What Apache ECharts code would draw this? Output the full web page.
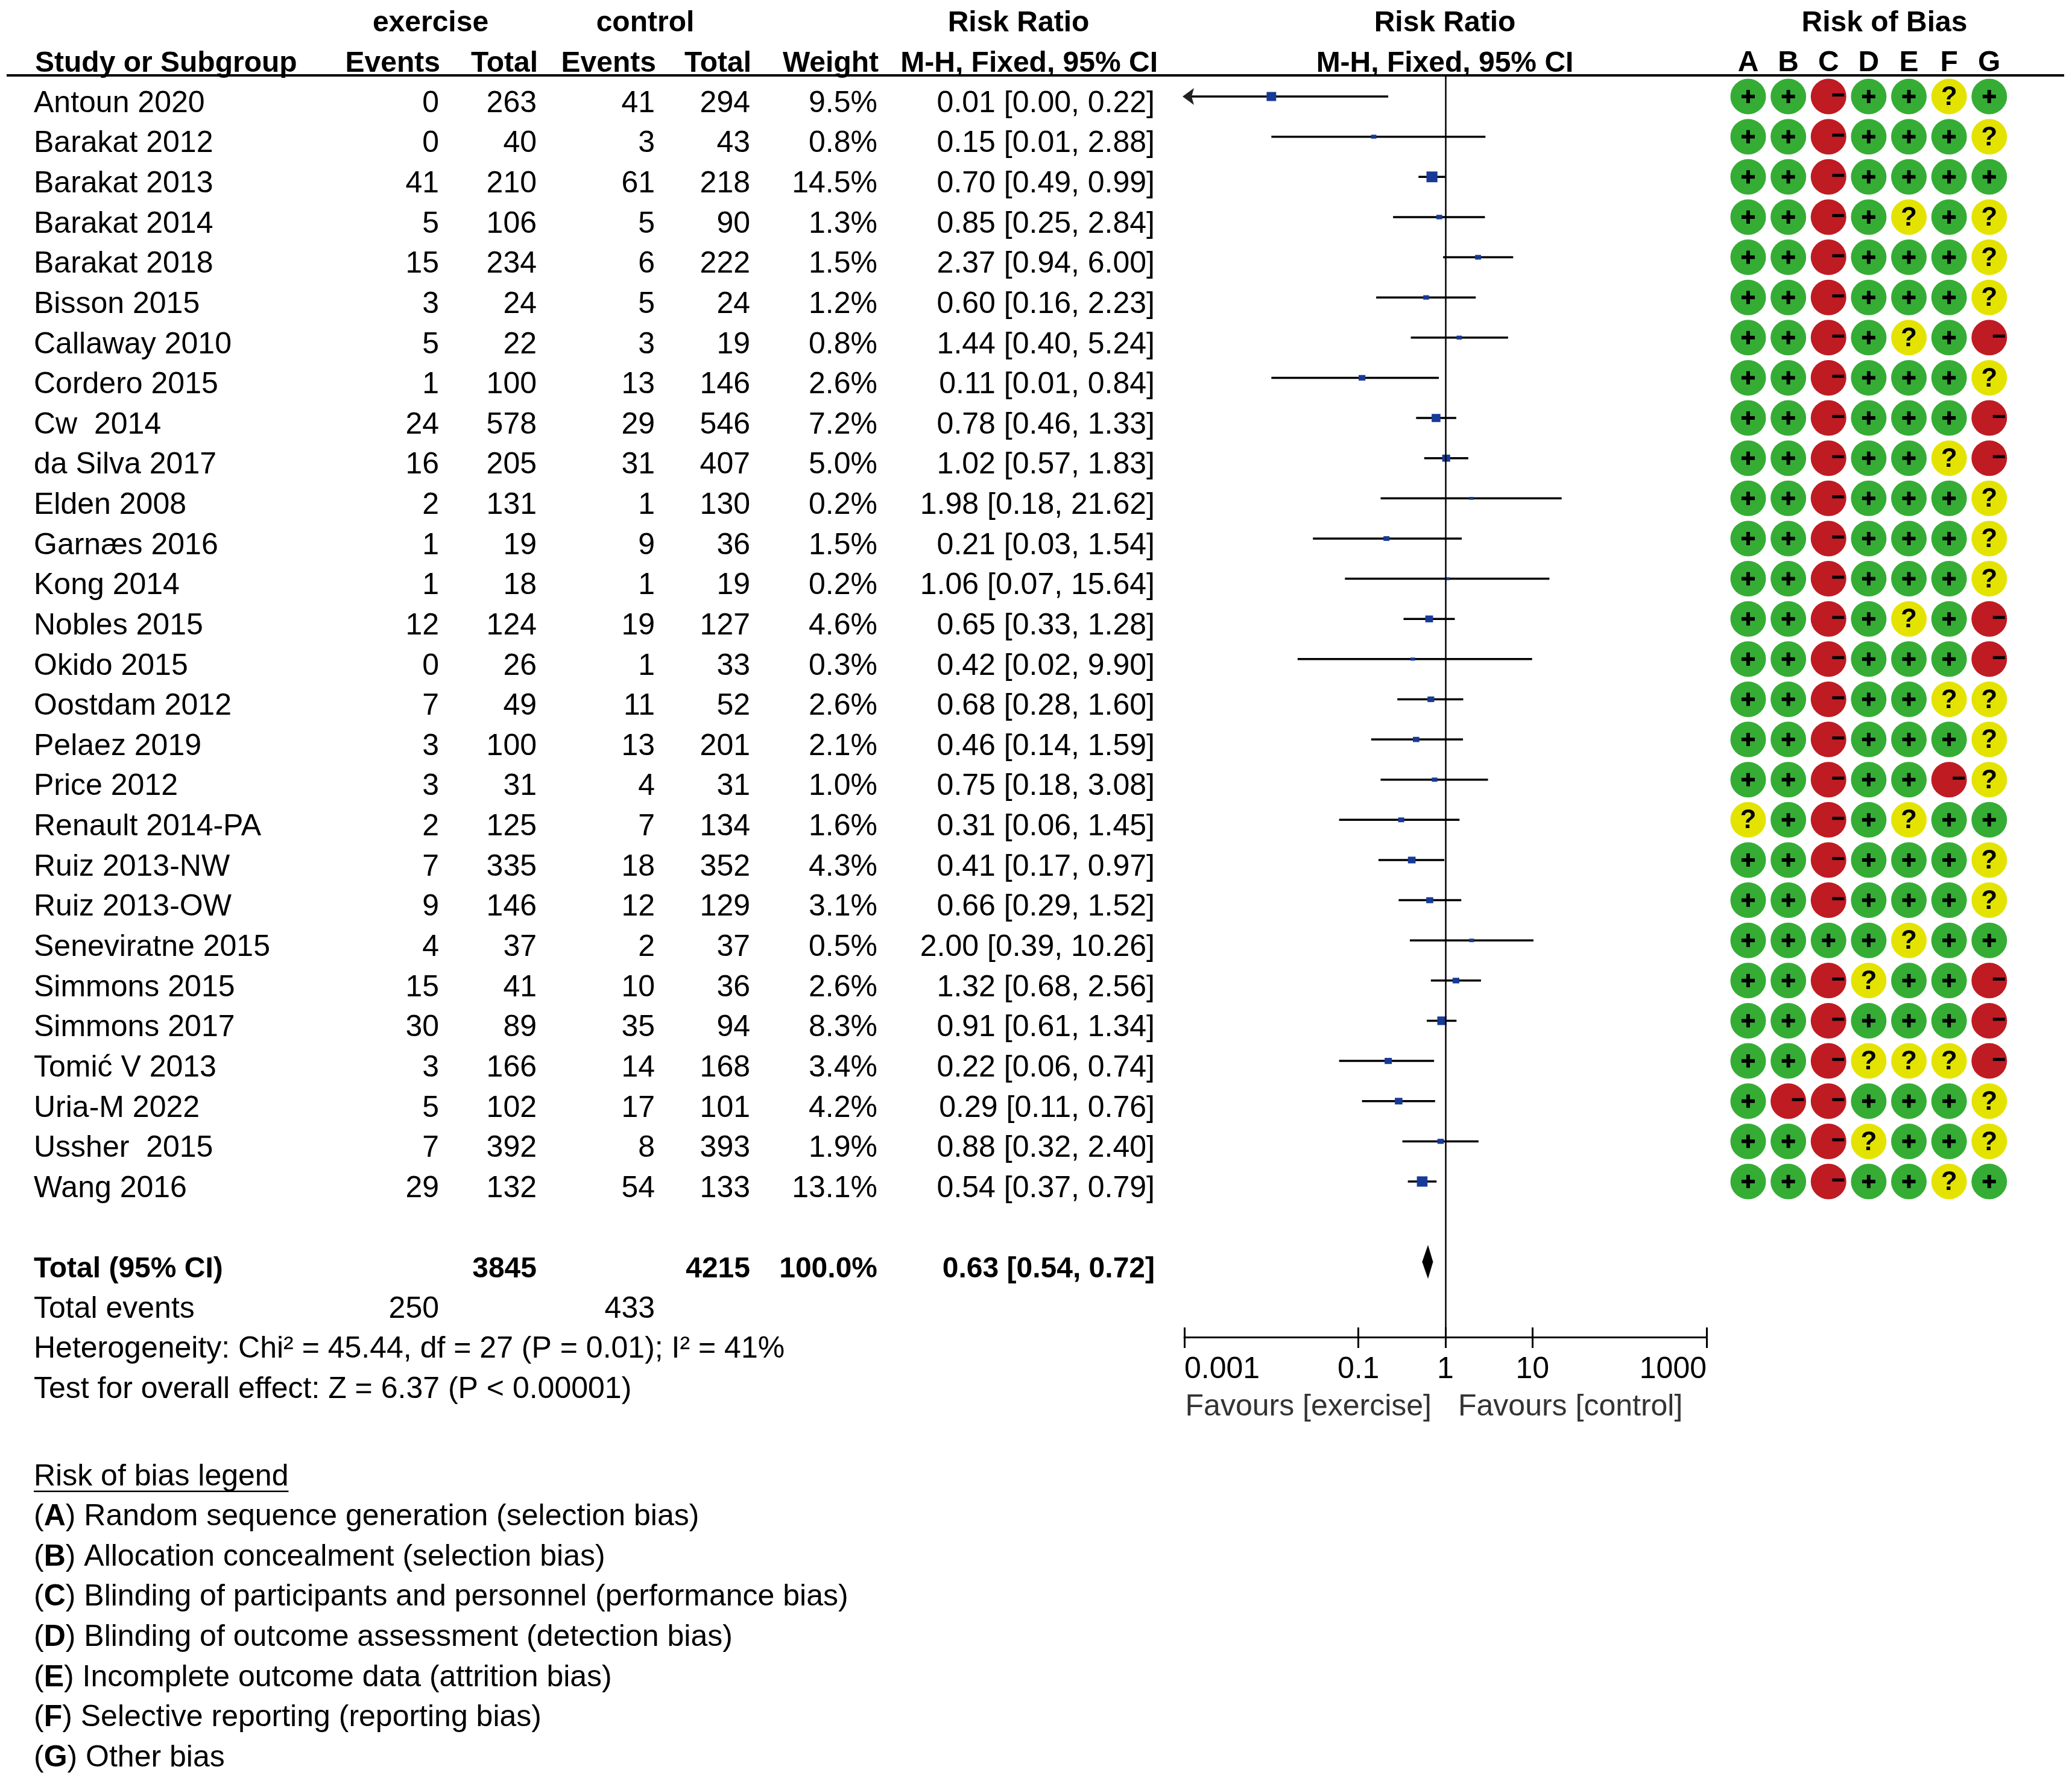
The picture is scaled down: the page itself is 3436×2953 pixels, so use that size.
<!DOCTYPE html>
<html>
<head>
<meta charset="utf-8">
<script src="https://cdn.jsdelivr.net/npm/echarts@6/dist/echarts.min.js"></script>
<style>
html,body{margin:0;padding:0;background:#fff}
#chart{width:3436px;height:2953px}
</style>
</head>
<body>
<div id="chart"></div>
<script>
// ---- data ----
var studies = ['Antoun 2020','Barakat 2012','Barakat 2013','Barakat 2014','Barakat 2018','Bisson 2015',
    'Callaway 2010','Cordero 2015','Cw  2014','da Silva 2017','Elden 2008','Garnæs 2016','Kong 2014',
    'Nobles 2015','Okido 2015','Oostdam 2012','Pelaez 2019','Price 2012','Renault 2014-PA','Ruiz 2013-NW',
    'Ruiz 2013-OW','Seneviratne 2015','Simmons 2015','Simmons 2017','Tomić V 2013','Uria-M 2022',
    'Ussher  2015','Wang 2016'];
var expEvents = [0,0,41,5,15,3,5,1,24,16,2,1,1,12,0,7,3,3,2,7,9,4,15,30,3,5,7,29];
var expTotal  = [263,40,210,106,234,24,22,100,578,205,131,19,18,124,26,49,100,31,125,335,146,37,41,89,166,102,392,132];
var ctlEvents = [41,3,61,5,6,5,3,13,29,31,1,9,1,19,1,11,13,4,7,18,12,2,10,35,14,17,8,54];
var ctlTotal  = [294,43,218,90,222,24,19,146,546,407,130,36,19,127,33,52,201,31,134,352,129,37,36,94,168,101,393,133];
var weights   = [9.5,0.8,14.5,1.3,1.5,1.2,0.8,2.6,7.2,5.0,0.2,1.5,0.2,4.6,0.3,2.6,2.1,1.0,1.6,4.3,3.1,0.5,2.6,8.3,3.4,4.2,1.9,13.1];
var rr     = [0.01,0.15,0.70,0.85,2.37,0.60,1.44,0.11,0.78,1.02,1.98,0.21,1.06,0.65,0.42,0.68,0.46,0.75,0.31,0.41,0.66,2.00,1.32,0.91,0.22,0.29,0.88,0.54];
var rrLow  = [0.00,0.01,0.49,0.25,0.94,0.16,0.40,0.01,0.46,0.57,0.18,0.03,0.07,0.33,0.02,0.28,0.14,0.18,0.06,0.17,0.29,0.39,0.68,0.61,0.06,0.11,0.32,0.37];
var rrHigh = [0.22,2.88,0.99,2.84,6.00,2.23,5.24,0.84,1.33,1.83,21.62,1.54,15.64,1.28,9.90,1.60,1.59,3.08,1.45,0.97,1.52,10.26,2.56,1.34,0.74,0.76,2.40,0.79];
var rob = ['++-++?+','++-+++?','++-++++','++-+?+?','++-+++?','++-+++?','++-+?+-','++-+++?',
    '++-+++-','++-++?-','++-+++?','++-+++?','++-+++?','++-+?+-','++-+++-','++-++??','++-+++?',
    '++-++-?','?+-+?++','++-+++?','++-+++?','++++?++','++-?++-','++-+++-','++-???-','+--+++?',
    '++-?++?','++-++?+'];
var robDomains = ['A','B','C','D','E','F','G'];

var totalExp = 3845, totalCtl = 4215, totalWeight = 100.0;
var totalEventsExp = 250, totalEventsCtl = 433;
var totalRR = 0.63, totalLow = 0.54, totalHigh = 0.72;
var heterogeneity = 'Heterogeneity: Chi² = 45.44, df = 27 (P = 0.01); I² = 41%';
var overallEffect = 'Test for overall effect: Z = 6.37 (P < 0.00001)';
var robLegendTitle = 'Risk of bias legend';
var robLegend = ['Random sequence generation (selection bias)','Allocation concealment (selection bias)',
    'Blinding of participants and personnel (performance bias)','Blinding of outcome assessment (detection bias)',
    'Incomplete outcome data (attrition bias)','Selective reporting (reporting bias)','Other bias'];
var forestTicks = [0.001, 0.1, 1, 10, 1000];
var forestTickLabels = ['0.001','0.1','1','10','1000'];

// ---- layout ----
var W = 3436, H = 2953;
var Y0 = 160, ROWH = 66.63, TEXT_DY = 12;
var FONT = '"Liberation Sans", Arial, sans-serif';
var FS = 50, FSB = 48;
var TOP = 125, AXIS_Y = 2217;
var FOREST_L = 1964, FOREST_R = 2830;
var ROB_X0 = 2899, ROB_STEP = 66.63;
var COL = {name:56, expEv:728, expTot:890, ctlEv:1086, ctlTot:1244, weight:1455, ci:1915,
    exp:714, ctl:1070, rrHead:1689, forest:2396, rob:3125, favL:2374, favR:2418};
var ROB_COLOR = {'+':'#35ad35', '-':'#bf1b22', '?':'#e4e300'};

function rowOf(y){ return (y - Y0) / ROWH; }
function fmt2(v){ return v.toFixed(2); }
function ciText(e, l, h){ return fmt2(e) + ' [' + fmt2(l) + ', ' + fmt2(h) + ']'; }

// ---- table cells ----
var cells = [];
function cell(x, row, text, align, bold, extra){
    var c = {x:x, row:row, text:String(text), align:align || 'right', bold:!!bold};
    for (var k in extra) c[k] = extra[k];
    cells.push(c);
}
cell(COL.exp, -2, 'exercise', 'center', true);
cell(COL.ctl, -2, 'control', 'center', true);
cell(COL.rrHead, -2, 'Risk Ratio', 'center', true);
cell(COL.forest, -2, 'Risk Ratio', 'center', true);
cell(COL.rob, -2, 'Risk of Bias', 'center', true);
cell(COL.name + 2, -1, 'Study or Subgroup', 'left', true);
cell(COL.expEv + 2, -1, 'Events', 'right', true);
cell(COL.expTot + 2, -1, 'Total', 'right', true);
cell(COL.ctlEv + 2, -1, 'Events', 'right', true);
cell(COL.ctlTot + 2, -1, 'Total', 'right', true);
cell(COL.weight + 2, -1, 'Weight', 'right', true);
cell(COL.ci + 5, -1, 'M-H, Fixed, 95% CI', 'right', true);
cell(COL.forest, -1, 'M-H, Fixed, 95% CI', 'center', true);

for (var i = 0; i < studies.length; i++) {
    cell(COL.name, i, studies[i], 'left');
    cell(COL.expEv, i, expEvents[i]);
    cell(COL.expTot, i, expTotal[i]);
    cell(COL.ctlEv, i, ctlEvents[i]);
    cell(COL.ctlTot, i, ctlTotal[i]);
    cell(COL.weight, i, weights[i].toFixed(1) + '%');
    cell(COL.ci, i, ciText(rr[i], rrLow[i], rrHigh[i]));
}
var rTot = studies.length + 1;
cell(COL.name, rTot, 'Total (95% CI)', 'left', true);
cell(COL.expTot, rTot, totalExp, 'right', true);
cell(COL.ctlTot, rTot, totalCtl, 'right', true);
cell(COL.weight, rTot, totalWeight.toFixed(1) + '%', 'right', true);
cell(COL.ci, rTot, ciText(totalRR, totalLow, totalHigh), 'right', true);
cell(COL.name, rTot + 1, 'Total events', 'left');
cell(COL.expEv, rTot + 1, totalEventsExp);
cell(COL.ctlEv, rTot + 1, totalEventsCtl);
cell(COL.name, rTot + 2, heterogeneity, 'left');
cell(COL.name, rTot + 3, overallEffect, 'left');
cell(COL.favL, rTot + 3.43, 'Favours [exercise]', 'right', false, {color:'#333'});
cell(COL.favR, rTot + 3.43, 'Favours [control]', 'left', false, {color:'#333'});
cell(COL.name, rTot + 5.17, robLegendTitle, 'left', false, {underline:true});
for (var j = 0; j < robLegend.length; j++) {
    cell(COL.name, rTot + 6.17 + j, '({b|' + robDomains[j] + '}) ' + robLegend[j], 'left', false, {rich:true});
}

var measureCtx = document.createElement('canvas').getContext('2d');

function renderCell(params, api){
    var c = cells[params.dataIndex];
    var p = api.coord([api.value(0), api.value(1) + TEXT_DY / ROWH]);
    var size = c.bold ? FSB : FS;
    var style = {text:c.text, fill:c.color || '#000', align:c.align, verticalAlign:'middle',
        fontSize:size, fontFamily:FONT, fontWeight:c.bold ? 'bold' : 'normal'};
    if (c.rich) style.rich = {b:{fontSize:FS, fontFamily:FONT, fontWeight:'bold', fill:'#000'}};
    var el = {type:'text', x:p[0], y:p[1], style:style};
    if (!c.underline) return el;
    measureCtx.font = size + 'px ' + FONT;
    var w = measureCtx.measureText(c.text).width;
    return {type:'group', children:[el, {type:'line',
        shape:{x1:p[0], y1:p[1] + 24, x2:p[0] + w, y2:p[1] + 24},
        style:{stroke:'#000', lineWidth:2.5}}]};
}

function renderStudy(params, api){
    var est = api.value(0), row = api.value(1), lo = api.value(2), hi = api.value(3), w = api.value(4);
    var p = api.coord([est, row]);
    var arrowLeft = !(lo >= forestTicks[0]);
    var xl = api.coord([arrowLeft ? Math.log10(forestTicks[0]) : Math.log10(lo), row])[0];
    var xh = api.coord([Math.log10(Math.min(hi, forestTicks[forestTicks.length - 1])), row])[0];
    var ch = [{type:'line', shape:{x1:xl, y1:p[1], x2:xh, y2:p[1]}, style:{stroke:'#000', lineWidth:3.5}}];
    if (arrowLeft) {
        ch.push({type:'polygon', shape:{points:[[xl - 3, p[1]], [xl + 16, p[1] - 14], [xl + 12, p[1]], [xl + 16, p[1] + 14]]},
            style:{fill:'#222'}});
    }
    var sw = 6 + 3.2 * Math.sqrt(w), sh = 3 + 3.9 * Math.sqrt(w);
    ch.push({type:'rect', shape:{x:p[0] - sw / 2, y:p[1] - sh / 2, width:sw, height:sh}, style:{fill:'#163a96'}});
    return {type:'group', children:ch};
}

function renderDiamond(params, api){
    var row = api.value(1);
    var c = api.coord([api.value(0), row]);
    var l = api.coord([Math.log10(api.value(2)), row]);
    var r = api.coord([Math.log10(api.value(3)), row]);
    return {type:'polygon', shape:{points:[[l[0], c[1]], [c[0], c[1] - 28], [r[0], c[1]], [c[0], c[1] + 28]]},
        style:{fill:'#000'}};
}

var robCells = [];
for (var i = 0; i < rob.length; i++) {
    for (var j = 0; j < robDomains.length; j++) robCells.push([j, i, rob[i].charAt(j)]);
}
function renderRob(params, api){
    var p = api.coord([api.value(0), api.value(1)]);
    var code = robCells[params.dataIndex][2];
    var ch = [{type:'circle', shape:{cx:p[0], cy:p[1], r:29.5}, style:{fill:ROB_COLOR[code]}}];
    if (code === '+') {
        ch.push({type:'rect', shape:{x:p[0] - 11, y:p[1] - 3, width:22, height:6}, style:{fill:'#000'}});
        ch.push({type:'rect', shape:{x:p[0] - 3, y:p[1] - 11, width:6, height:22}, style:{fill:'#000'}});
    } else if (code === '-') {
        ch.push({type:'rect', shape:{x:p[0] + 6, y:p[1] - 5, width:20, height:5}, style:{fill:'#000'}});
    } else {
        ch.push({type:'text', x:p[0], y:p[1] + 2, style:{text:'?', align:'center', verticalAlign:'middle',
            fontSize:44, fontWeight:'bold', fontFamily:FONT, fill:'#000'}});
    }
    return {type:'group', children:ch};
}

var tickVals = forestTicks.map(function(v){ return Math.log10(v); });
function tickLabel(v){
    for (var k = 0; k < tickVals.length; k++) if (Math.abs(tickVals[k] - v) < 1e-6) return forestTickLabels[k];
    return '';
}

var studyData = studies.map(function(s, i){ return [Math.log10(rr[i]), i, rrLow[i], rrHigh[i], weights[i]]; });

var chart = echarts.init(document.getElementById('chart'));
chart.setOption({
    animation:false,
    backgroundColor:'#fff',
    textStyle:{fontFamily:FONT},
    grid:[
        {left:0, top:0, width:W, height:H, outerBoundsMode:'none'},
        {left:FOREST_L, top:TOP, width:FOREST_R - FOREST_L, height:AXIS_Y - TOP, outerBoundsMode:'none'},
        {left:ROB_X0 - ROB_STEP / 2, top:TOP, width:ROB_STEP * robDomains.length, height:AXIS_Y - TOP, outerBoundsMode:'none'}
    ],
    xAxis:[
        {gridIndex:0, type:'value', min:0, max:W, show:false},
        {gridIndex:1, type:'value', min:-3, max:3, position:'bottom',
            axisLine:{show:true, onZero:false, lineStyle:{color:'#000', width:3}},
            axisTick:{show:true, customValues:tickVals, length:18, lineStyle:{color:'#000', width:3}},
            axisLabel:{show:true, customValues:tickVals, formatter:tickLabel, margin:54, verticalAlign:'middle',
                alignMinLabel:'left', alignMaxLabel:'right', fontSize:FS, color:'#000', fontFamily:FONT},
            splitLine:{show:false}},
        {gridIndex:1, type:'value', min:-3, max:3, position:'bottom', offset:0,
            axisLine:{show:false, onZero:false},
            axisTick:{show:true, inside:true, customValues:tickVals, length:16, lineStyle:{color:'#000', width:3}},
            axisLabel:{show:false}, splitLine:{show:false}},
        {gridIndex:2, type:'category', data:robDomains, position:'top',
            axisLine:{show:false, onZero:false}, axisTick:{show:false},
            axisLabel:{interval:0, margin:20, verticalAlign:'middle', fontSize:FSB, fontWeight:'bold', color:'#000', fontFamily:FONT},
            splitLine:{show:false}}
    ],
    yAxis:[
        {gridIndex:0, type:'value', inverse:true, min:rowOf(0), max:rowOf(H), show:false},
        {gridIndex:1, type:'value', inverse:true, min:rowOf(TOP), max:rowOf(AXIS_Y), show:false},
        {gridIndex:2, type:'value', inverse:true, min:rowOf(TOP), max:rowOf(AXIS_Y), show:false}
    ],
    graphic:[
        {type:'line', shape:{x1:11, y1:TOP, x2:3423, y2:TOP}, style:{stroke:'#000', lineWidth:4}}
    ],
    series:[
        {type:'custom', xAxisIndex:0, yAxisIndex:0, renderItem:renderCell, silent:true,
            data:cells.map(function(c){ return [c.x, c.row]; })},
        {type:'custom', xAxisIndex:1, yAxisIndex:1, renderItem:renderStudy, silent:true,
            encode:{x:0, y:1}, data:studyData,
            markLine:{symbol:'none', silent:true, label:{show:false},
                lineStyle:{color:'#000', width:2.5, type:'solid'}, data:[{xAxis:0}]}},
        {type:'custom', xAxisIndex:1, yAxisIndex:1, renderItem:renderDiamond, silent:true,
            encode:{x:0, y:1}, data:[[Math.log10(totalRR), rTot, totalLow, totalHigh]]},
        {type:'custom', xAxisIndex:3, yAxisIndex:2, renderItem:renderRob, silent:true,
            encode:{x:0, y:1}, data:robCells.map(function(d){ return [d[0], d[1]]; })}
    ]
});
</script>
</body>
</html>
